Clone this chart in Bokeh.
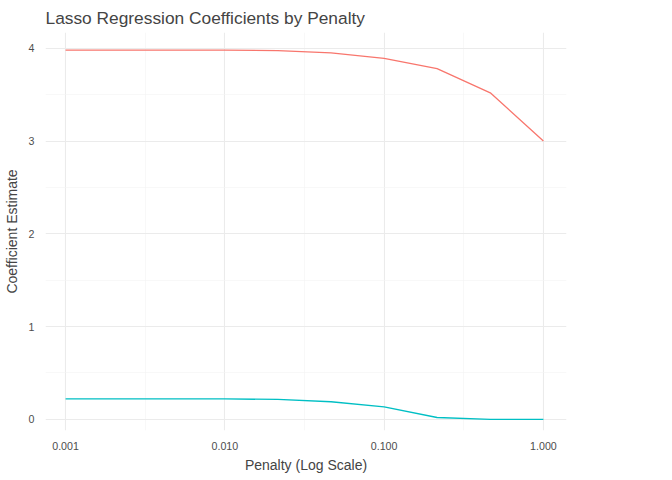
from bokeh.plotting import figure
from bokeh.models import FixedTicker, CustomJSTickFormatter, Legend, LegendItem
from bokeh.embed import file_html
from bokeh.resources import INLINE

penalty = [0.001, 0.00215, 0.00464, 0.01, 0.0215, 0.0464, 0.1, 0.215, 0.464, 1.0]
coef_x1 = [3.98, 3.98, 3.98, 3.98, 3.975, 3.95, 3.89, 3.78, 3.52, 3.0]
coef_x2 = [0.22, 0.22, 0.22, 0.22, 0.215, 0.19, 0.135, 0.02, 0.0, 0.0]
x_ticks = [0.001, 0.01, 0.1, 1.0]
x_minor = [0.000316, 0.00316, 0.0316, 0.316, 3.16]
y_ticks = [0, 1, 2, 3, 4]
y_minor = [0.5, 1.5, 2.5, 3.5]

p = figure(frame_width=521, frame_height=398, x_axis_type="log", output_backend="svg",
           toolbar_location=None, x_range=(10**-3.126, 10**0.145), y_range=(-0.12, 4.17),
           title="Lasso Regression Coefficients by Penalty",
           min_border_left=0, min_border_top=0, min_border_bottom=0, min_border_right=0)
p.title.text_font = "Liberation Sans"
p.title.text_font_size = "13pt"
p.title.text_font_style = "normal"
p.outline_line_color = None

r1 = p.line(penalty, coef_x1, line_color="#F8766D", line_width=1.3)
r2 = p.line(penalty, coef_x2, line_color="#00BFC4", line_width=1.3)

p.xaxis.ticker = FixedTicker(ticks=x_ticks, minor_ticks=x_minor)
p.xaxis.formatter = CustomJSTickFormatter(code="return tick.toFixed(3);")
p.yaxis.ticker = FixedTicker(ticks=y_ticks, minor_ticks=y_minor)
for ax in (p.xaxis, p.yaxis):
    ax.axis_line_color = None
    ax.major_tick_line_color = None
    ax.minor_tick_line_color = None
    ax.major_label_text_font = "Liberation Sans"
    ax.major_label_text_font_size = "8pt"
    ax.major_label_text_color = "#4d4d4d"
    ax.axis_label_text_font = "Liberation Sans"
    ax.axis_label_text_font_size = "10.5pt"
    ax.axis_label_text_font_style = "normal"
p.xaxis.axis_label = "Penalty (Log Scale)"
p.yaxis.axis_label = "Coefficient Estimate"
p.xaxis.axis_label_standoff = 4
p.yaxis.axis_label_standoff = 6
for g in (p.xgrid, p.ygrid):
    g.grid_line_color = "#ebebeb"
    g.grid_line_width = 1.1
    g.minor_grid_line_color = "#f4f4f4"
    g.minor_grid_line_width = 0.6

legend = Legend(items=[LegendItem(label="coef_x1", renderers=[r1]),
                       LegendItem(label="coef_x2", renderers=[r2])],
                title="Predictor", location="center")
legend.title_text_font = "Liberation Sans"
legend.title_text_font_size = "10.5pt"
legend.title_text_font_style = "normal"
legend.label_text_font = "Liberation Sans"
legend.label_text_font_size = "8pt"
legend.border_line_color = None
legend.glyph_width = 20
legend.spacing = 6
p.add_layout(legend, "right")

open("out.html", "w").write(file_html(p, INLINE))
